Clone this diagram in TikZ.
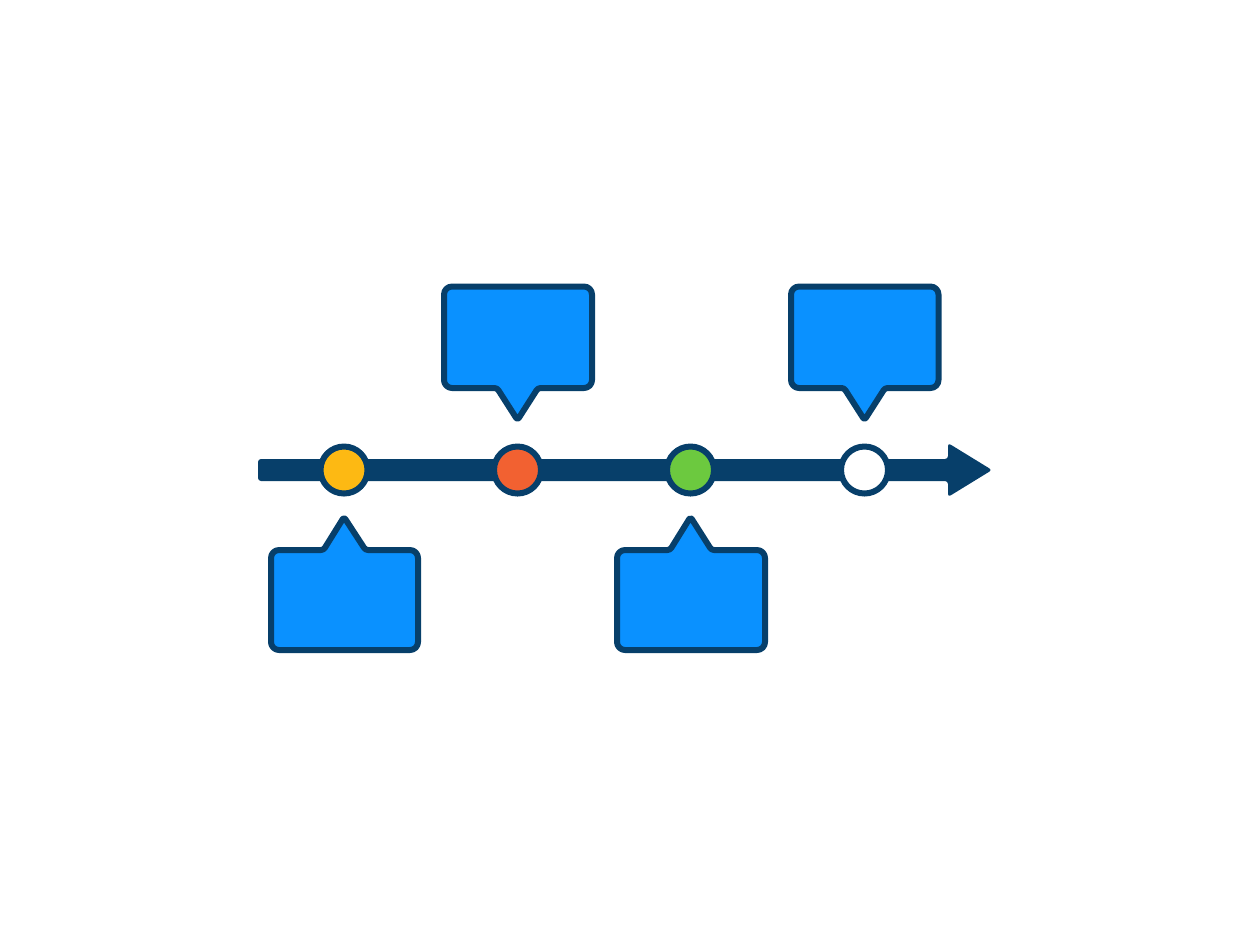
\documentclass[tikz,border=0pt]{standalone}
\definecolor{navy}{RGB}{7,63,106}
\definecolor{bubbleblue}{RGB}{10,145,255}
\definecolor{dotyellow}{RGB}{253,185,19}
\definecolor{dotred}{RGB}{242,97,49}
\definecolor{dotgreen}{RGB}{108,201,63}
\begin{document}
\begin{tikzpicture}[x=0.02cm, y=-0.02cm,
	dot/.style={circle, draw=navy, line width=0.12cm, minimum size=0.94cm, inner sep=0pt},
	bubble/.style={draw=navy, fill=bubbleblue, line width=0.12cm, line join=round}]
	\useasboundingbox (0,0) rectangle (1250,938);

	% time line
	\fill[navy, rounded corners=0.6mm] (258,459) -- (948,459) -- (948,443) -- (992,470) -- (948,497) -- (948,481) -- (258,481) -- cycle;

	\node[dot, fill=dotyellow] (dotA) at (344,470) {};
	\node[dot, fill=dotred] (dotB) at (517.5,470) {};
	\node[dot, fill=dotgreen] (dotC) at (690.5,470) {};
	\node[dot, fill=white] (dotD) at (864.5,470) {};

	% callouts above
	\draw[bubble] (497,388) [rounded corners=0.5mm] -- (517.5,420) -- (538,388) [rounded corners=1.6mm] -- (592,388) -- (592,286.5) -- (444,286.5) -- (444,388) [rounded corners=0.5mm] -- cycle;
	\draw[bubble] (844,388) [rounded corners=0.5mm] -- (864.5,420) -- (885,388) [rounded corners=1.6mm] -- (938.5,388) -- (938.5,286.5) -- (791,286.5) -- (791,388) [rounded corners=0.5mm] -- cycle;

	% callouts below
	\draw[bubble] (323.5,550) [rounded corners=0.5mm] -- (344,517) -- (365.5,550) [rounded corners=1.6mm] -- (418,550) -- (418,650) -- (271,650) -- (271,550) [rounded corners=0.5mm] -- cycle;
	\draw[bubble] (670,550) [rounded corners=0.5mm] -- (690.5,517) -- (711.5,550) [rounded corners=1.6mm] -- (765,550) -- (765,650) -- (617,650) -- (617,550) [rounded corners=0.5mm] -- cycle;
\end{tikzpicture}
\end{document}
